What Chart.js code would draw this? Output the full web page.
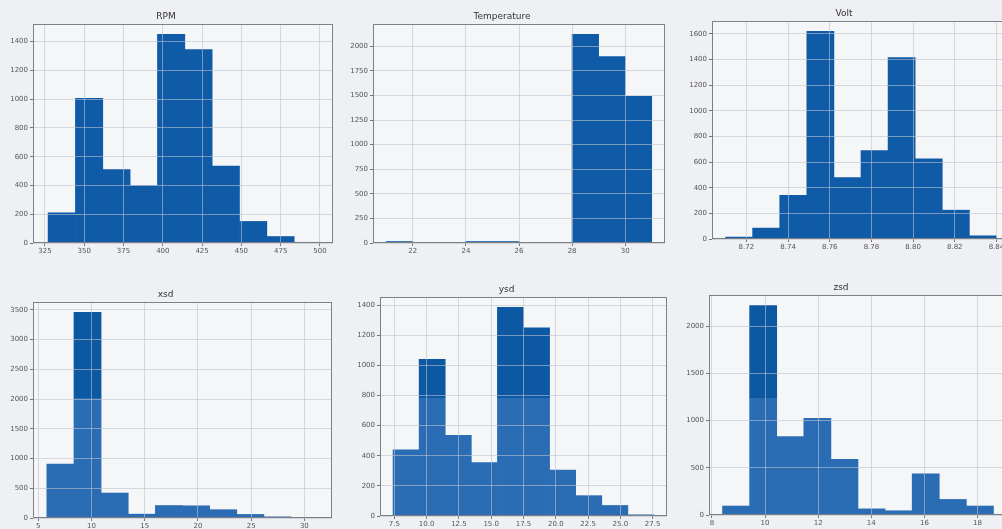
<!DOCTYPE html>
<html>
<head>
<meta charset="utf-8">
<script src="https://cdn.jsdelivr.net/npm/chart.js@4.4.1/dist/chart.umd.min.js"></script>
<style>
  body { margin: 0; background: #eef0f3; overflow: hidden; }
  #wrap { position: relative; width: 1002px; height: 529px; overflow: hidden; }
  canvas { position: absolute; }
</style>
</head>
<body>
<div id="wrap">
  <canvas id="rpmChart"></canvas>
  <canvas id="tempChart"></canvas>
  <canvas id="voltChart"></canvas>
  <canvas id="xsdChart"></canvas>
  <canvas id="ysdChart"></canvas>
  <canvas id="zsdChart"></canvas>
</div>
<script>
// Histogramas: bordas dos bins e contagens
const rpmEdges = [327, 344.4, 361.8, 379.2, 396.6, 414, 431.4, 448.8, 466.2, 483.6, 501];
const rpmCounts = [210, 1005, 510, 400, 1450, 1345, 535, 150, 45, 5];
const rpmXTicks = [325, 350, 375, 400, 425, 450, 475, 500];
const rpmYTicks = [0, 200, 400, 600, 800, 1000, 1200, 1400];

const tempEdges = [21, 22, 23, 24, 25, 26, 27, 28, 29, 30, 31];
const tempCounts = [15, 0, 0, 15, 15, 0, 0, 2120, 1895, 1490];
const tempXTicks = [22, 24, 26, 28, 30];
const tempYTicks = [0, 250, 500, 750, 1000, 1250, 1500, 1750, 2000];

const voltEdges = [8.710, 8.723, 8.736, 8.749, 8.762, 8.775, 8.788, 8.801, 8.814, 8.827, 8.840];
const voltCounts = [15, 85, 340, 1620, 480, 690, 1415, 625, 225, 25];
const voltXTicks = [8.72, 8.74, 8.76, 8.78, 8.80, 8.82, 8.84];
const voltYTicks = [0, 200, 400, 600, 800, 1000, 1200, 1400, 1600];

const xsdEdges = [5.8, 8.35, 10.9, 13.45, 16.0, 18.55, 21.1, 23.65, 26.2, 28.75, 31.3];
const xsdCounts = [905, 3460, 420, 65, 210, 205, 140, 60, 20, 4];
const xsdXTicks = [5, 10, 15, 20, 25, 30];
const xsdYTicks = [0, 500, 1000, 1500, 2000, 2500, 3000, 3500];

const ysdEdges = [7.4, 9.42, 11.44, 13.46, 15.48, 17.5, 19.52, 21.54, 23.56, 25.58, 27.6];
const ysdCounts = [440, 1040, 535, 355, 1385, 1250, 305, 135, 70, 8];
const ysdXTicks = [7.5, 10, 12.5, 15, 17.5, 20, 22.5, 25, 27.5];
const ysdYTicks = [0, 200, 400, 600, 800, 1000, 1200, 1400];

const zsdEdges = [8.4, 9.42, 10.44, 11.46, 12.48, 13.5, 14.52, 15.54, 16.56, 17.58, 18.6];
const zsdCounts = [95, 2220, 830, 1025, 590, 65, 45, 435, 165, 95];
const zsdXTicks = [8, 10, 12, 14, 16, 18];
const zsdYTicks = [0, 500, 1000, 1500, 2000];

// Medidas do layout (px)
const Y_W = 34, TITLE_H = 14, X_H = 14, RIGHT_PAD = 16;
const FONT = 'DejaVu Sans';

// moldura e fundo da área do gráfico
const framePlugin = {
  id: 'frame',
  beforeDraw(chart) {
    const a = chart.chartArea;
    chart.ctx.save();
    chart.ctx.fillStyle = '#f5f6f8';
    chart.ctx.fillRect(a.left, a.top, a.right - a.left, a.bottom - a.top);
    chart.ctx.restore();
  },
  afterDraw(chart) {
    const a = chart.chartArea;
    const c = chart.ctx;
    c.save();
    c.strokeStyle = '#7d8087';
    c.lineWidth = 1;
    c.strokeRect(a.left + 0.5, a.top + 0.5, a.right - a.left - 1, a.bottom - a.top - 1);
    c.restore();
  }
};

function barColor(twoTone) {
  return function (ctx) {
    const chart = ctx.chart;
    const a = chart.chartArea;
    if (!a || !twoTone) return '#0f5ba7';
    // tom mais escuro na parte de cima (como na foto)
    const canvasTop = parseFloat(chart.canvas.style.top);
    const split = 398 - canvasTop;
    const g = chart.ctx.createLinearGradient(0, a.top, 0, a.bottom);
    const f = Math.min(Math.max((split - a.top) / (a.bottom - a.top), 0), 1);
    g.addColorStop(0, '#0d58a3');
    g.addColorStop(f, '#0d58a3');
    g.addColorStop(f, '#2b6db4');
    g.addColorStop(1, '#2b6db4');
    return g;
  };
}

function drawHist(id, title, edges, counts, xTicks, xDec, yTicks, box, xMin, xMax, twoTone) {
  const canvas = document.getElementById(id);
  canvas.width = box.r - box.l + Y_W + RIGHT_PAD;
  canvas.height = box.b - box.t + TITLE_H + X_H;
  canvas.style.left = (box.l - Y_W) + 'px';
  canvas.style.top = (box.t - TITLE_H) + 'px';

  const points = counts.map((c, i) => ({ x: (edges[i] + edges[i + 1]) / 2, y: c }));
  const yMax = Math.max(...counts) * 1.05;

  return new Chart(canvas.getContext('2d'), {
    type: 'bar',
    data: {
      datasets: [{
        data: points,
        backgroundColor: barColor(twoTone),
        borderWidth: 0,
        barPercentage: 1,
        categoryPercentage: 1
      }]
    },
    options: {
      responsive: false,
      animation: false,
      layout: { padding: { left: 0, right: RIGHT_PAD, top: 0, bottom: 0 } },
      plugins: {
        legend: { display: false },
        tooltip: { enabled: false },
        title: {
          display: true,
          text: title,
          color: '#333',
          font: { family: FONT, size: 9, weight: 'normal', lineHeight: 1 },
          padding: { top: 2, bottom: 3 }
        }
      },
      scales: {
        x: {
          type: 'linear',
          min: xMin,
          max: xMax,
          offset: false,
          afterBuildTicks: s => { s.ticks = xTicks.map(v => ({ value: v })); },
          afterFit: s => { s.height = X_H; },
          ticks: {
            autoSkip: false,
            maxRotation: 0,
            padding: 1,
            color: '#555',
            font: { family: FONT, size: 7 },
            callback: v => Number(v).toFixed(xDec)
          },
          grid: { offset: false, z: 1, color: 'rgba(190,195,205,0.6)', tickLength: 3, tickColor: '#777' },
          border: { display: false }
        },
        y: {
          min: 0,
          max: yMax,
          afterBuildTicks: s => { s.ticks = yTicks.map(v => ({ value: v })); },
          afterFit: s => { s.width = Y_W; },
          ticks: {
            padding: 2,
            color: '#555',
            font: { family: FONT, size: 7 },
            callback: v => String(v)
          },
          grid: { z: 1, color: 'rgba(190,195,205,0.6)', tickLength: 3, tickColor: '#777' },
          border: { display: false }
        }
      }
    },
    plugins: [framePlugin]
  });
}

drawHist('rpmChart', 'RPM', rpmEdges, rpmCounts, rpmXTicks, 0, rpmYTicks,
  { l: 33, t: 24, r: 333, b: 243 }, 317.4, 508.3, false);
drawHist('tempChart', 'Temperature', tempEdges, tempCounts, tempXTicks, 0, tempYTicks,
  { l: 373, t: 24, r: 665, b: 243 }, 20.5, 31.5, false);
drawHist('voltChart', 'Volt', voltEdges, voltCounts, voltXTicks, 2, voltYTicks,
  { l: 712, t: 21, r: 1010, b: 239 }, 8.7035, 8.8465, false);
drawHist('xsdChart', 'xsd', xsdEdges, xsdCounts, xsdXTicks, 0, xsdYTicks,
  { l: 33, t: 302, r: 332, b: 518 }, 4.5, 32.6, true);
drawHist('ysdChart', 'ysd', ysdEdges, ysdCounts, ysdXTicks, 1, ysdYTicks,
  { l: 380, t: 297, r: 667, b: 516 }, 6.39, 28.61, true);
drawHist('zsdChart', 'zsd', zsdEdges, zsdCounts, zsdXTicks, 0, zsdYTicks,
  { l: 709, t: 295, r: 1007, b: 515 }, 7.89, 19.11, true);
</script>
</body>
</html>
